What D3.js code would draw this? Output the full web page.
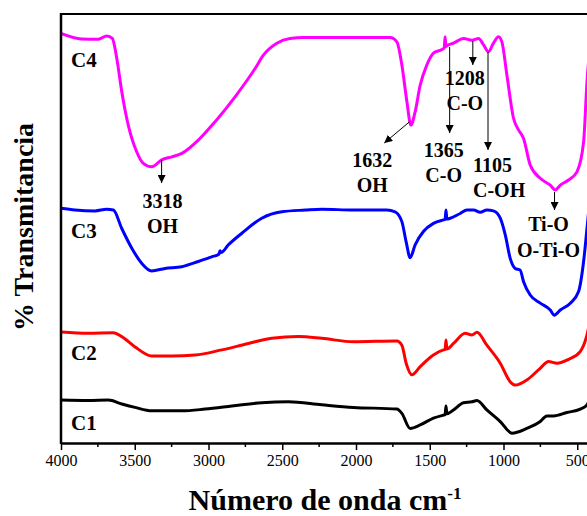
<!DOCTYPE html>
<html>
<head>
<meta charset="utf-8">
<script src="https://cdn.jsdelivr.net/npm/d3@7/dist/d3.min.js"></script>
<style>
  html, body { margin: 0; padding: 0; background: #fff; }
  svg { display: block; }
  text { font-family: "Liberation Serif", "Times New Roman", serif; }
</style>
</head>
<body>
<svg id="chart" width="587" height="516"></svg>
<script>
// FTIR spectra: wavenumber (cm-1) and transmittance (offset, arbitrary units)
const seriesNames = ["C1", "C2", "C3", "C4"];
const seriesColors = ["#000000", "#ff0000", "#0000ff", "#ff00ff"];

const wnC4 = [4000,3860,3747,3690,3652,3622,3588,3544,3487,3442,3385,3317,3249,3181,3069,2955,2820,2684,2628,2537,2447,2357,2153,1926,1768,1723,1689,1655,1628,1599,1565,1520,1475,1418,1402,1396,1390,1384,1339,1271,1214,1169,1135,1102,1068,1034,1011,977,932,898,864,819,751,683,649,615,559,502,457,434,400];
const tC4  = [95.5,94.2,94.1,94.9,94.3,89.7,81.9,74.1,67.9,65.2,64.4,66.0,66.7,67.5,70.6,74.9,80.7,87.3,90.4,93.2,94.3,94.5,94.5,94.5,94.5,93.5,88.1,79.6,74.1,77.2,83.4,88.1,90.9,91.7,92.1,94.7,92.4,92.6,93.2,94.3,93.9,94.3,92.8,91.2,93.2,94.7,93.5,85.8,75.7,73.0,71.0,64.8,61.7,60.1,59.0,60.1,61.3,63.2,70.2,84.2,97.0];

const wnC3 = [4000,3905,3769,3690,3645,3588,3520,3453,3385,3295,3181,3069,2978,2930,2922,2915,2865,2774,2639,2503,2345,2232,2017,1791,1735,1689,1660,1633,1599,1543,1475,1407,1396,1390,1384,1361,1294,1248,1203,1158,1113,1068,1022,988,955,921,887,864,819,751,683,656,615,547,491,457,434,400];
const tC3  = [54.7,54.3,54.1,54.5,54.3,50.0,45.4,41.9,40.1,40.7,41.1,42.3,43.4,44.0,44.8,44.4,46.2,48.9,52.4,53.9,54.3,54.5,54.3,54.3,53.9,51.6,46.9,43.2,46.2,49.3,51.2,52.0,52.1,54.3,52.2,52.4,53.5,54.3,54.3,53.8,54.3,54.1,52.4,48.5,43.1,40.7,40.3,37.6,34.5,32.6,31.0,29.8,31.0,32.6,35.3,42.3,50.0,62.0];

const wnC2 = [4000,3815,3645,3588,3498,3385,3249,3091,2910,2730,2571,2390,2232,2017,1723,1689,1660,1621,1565,1475,1407,1396,1390,1384,1339,1260,1214,1180,1113,1022,955,921,842,751,695,638,559,480,434,400];
const tC2  = [25.9,25.6,25.7,24.8,22.4,20.3,20.3,20.5,21.7,23.2,24.4,24.8,24.4,23.6,23.8,22.8,18.6,15.9,17.8,20.5,21.7,21.8,24.0,21.9,23.2,25.6,25.2,25.8,22.8,18.6,14.3,13.5,14.7,17.4,19.0,18.6,19.5,21.3,25.2,31.0];

const wnC1 = [4000,3815,3679,3588,3498,3385,3181,3023,2842,2639,2458,2232,2017,1723,1689,1633,1565,1475,1407,1396,1390,1384,1339,1271,1214,1180,1113,1022,943,842,751,706,661,570,480,434,400];
const tC1  = [10.0,9.9,10.0,9.1,8.3,7.5,7.5,7.9,8.6,9.4,9.6,8.9,8.3,7.9,6.9,3.4,4.2,5.8,6.5,6.6,8.6,6.8,7.7,9.4,9.6,9.9,7.7,5.0,2.3,3.4,5.0,6.3,6.3,7.1,7.9,8.9,11.2];

const seriesWn = [wnC1, wnC2, wnC3, wnC4];
const seriesT  = [tC1, tC2, tC3, tC4];

// band assignments
const bandWn    = [3318, 1632, 1365, 1208, 1105, 654];
const bandLabel = [["3318", "OH"], ["1632", "OH"], ["1365", "C-O"], ["1208", "C-O"], ["1105", "C-OH"], ["Ti-O", "O-Ti-O"]];

const xTicks = [4000, 3500, 3000, 2500, 2000, 1500, 1000, 500];
const xMinorTicks = [3750, 3250, 2750, 2250, 1750, 1250, 750];

const xTitle = "Número de onda cm";
const xTitleSup = "-1";
const yTitle = "% Transmitancia";

// ---- layout ----
const svg = d3.select("#chart");
const plot = { left: 61, right: 592, top: 14, bottom: 443 };

const x = d3.scaleLinear().domain([4000, 400]).range([plot.left, plot.right]);
const y = d3.scaleLinear().domain([0, 100]).range([plot.bottom, plot.top]);

svg.append("defs").append("marker")
  .attr("id", "head")
  .attr("viewBox", "0 0 10 10")
  .attr("refX", 10).attr("refY", 5)
  .attr("markerWidth", 8).attr("markerHeight", 8)
  .attr("markerUnits", "userSpaceOnUse")
  .attr("orient", "auto")
  .append("path").attr("d", "M0,0 L10,5 L0,10 Z").attr("fill", "#000");

svg.append("clipPath").attr("id", "plotclip")
  .append("rect").attr("x", plot.left).attr("y", 0)
  .attr("width", plot.right - plot.left).attr("height", plot.bottom);

// spectra
const line = d3.line()
  .x(d => x(d[0]))
  .y(d => y(d[1]))
  .curve(d3.curveMonotoneX);

const g = svg.append("g").attr("clip-path", "url(#plotclip)");
seriesNames.forEach((name, i) => {
  const pts = seriesWn[i].map((w, k) => [w, seriesT[i][k]]);
  g.append("path")
    .datum(pts)
    .attr("d", line)
    .attr("fill", "none")
    .attr("stroke", seriesColors[i])
    .attr("stroke-width", 3)
    .attr("stroke-linejoin", "round")
    .attr("stroke-linecap", "round");
});

// frame: top edge and left edge
svg.append("line")
  .attr("x1", plot.left).attr("x2", 587)
  .attr("y1", plot.top).attr("y2", plot.top)
  .attr("stroke", "#000").attr("stroke-width", 2);
svg.append("line")
  .attr("x1", plot.left).attr("x2", plot.left)
  .attr("y1", plot.top - 1).attr("y2", plot.bottom + 1)
  .attr("stroke", "#000").attr("stroke-width", 2.5);

// bottom axis
const xAxis = d3.axisBottom(x)
  .tickValues(xTicks)
  .tickFormat(d3.format("d"))
  .tickSizeInner(7).tickSizeOuter(0).tickPadding(5);
const axG = svg.append("g")
  .attr("transform", `translate(0,${plot.bottom})`)
  .call(xAxis);
axG.select(".domain").attr("stroke-width", 2.5);
axG.selectAll(".tick line").attr("stroke-width", 1.5);
axG.selectAll(".tick text")
  .attr("font-size", 16)
  .attr("fill", "#000");

axG.selectAll(".minor")
  .data(xMinorTicks).enter()
  .append("line")
  .attr("x1", d => x(d)).attr("x2", d => x(d))
  .attr("y1", 0).attr("y2", 4)
  .attr("stroke", "#000").attr("stroke-width", 1.5);

// series labels
const labelY = [430, 360, 238, 67];
seriesNames.forEach((name, i) => {
  svg.append("text")
    .attr("x", 71).attr("y", labelY[i])
    .attr("font-size", 21).attr("font-weight", "bold")
    .text(name);
});

// band annotations: arrow tail/head (px) and label placement
const annLayout = [
  { y0: 160, y1: 183, dxTail: 0,  dxHead: 0,   lx: 1,   anchor: "middle", ly: [208, 233] },
  { y0: 122, y1: 143, dxTail: -1, dxHead: -26, lx: -38, anchor: "middle", ly: [167, 192] },
  { y0: 47,  y1: 133, dxTail: 0,  dxHead: 0,   lx: -6,  anchor: "middle", ly: [157, 182] },
  { y0: 41,  y1: 65,  dxTail: 0,  dxHead: 0,   lx: -8,  anchor: "middle", ly: [85, 110] },
  { y0: 52,  y1: 150, dxTail: 0,  dxHead: 0,   lx: -15, anchor: "start",  ly: [172, 197] },
  { y0: 192, y1: 210, dxTail: 0,  dxHead: 0,   lx: -6,  anchor: "middle", ly: [231, 257] }
];

bandWn.forEach((w, i) => {
  const L = annLayout[i];
  const xx = x(w);
  svg.append("line")
    .attr("x1", xx + L.dxTail).attr("y1", L.y0)
    .attr("x2", xx + L.dxHead).attr("y2", L.y1)
    .attr("stroke", "#000").attr("stroke-width", 1)
    .attr("marker-end", "url(#head)");
  bandLabel[i].forEach((t, k) => {
    svg.append("text")
      .attr("x", xx + L.lx).attr("y", L.ly[k])
      .attr("text-anchor", L.anchor)
      .attr("font-size", 20).attr("font-weight", "bold")
      .text(t);
  });
});

// axis titles
const xt = svg.append("text")
  .attr("x", 325).attr("y", 510)
  .attr("text-anchor", "middle")
  .attr("font-size", 30).attr("font-weight", "bold")
  .text(xTitle);
xt.append("tspan")
  .attr("dy", -11).attr("font-size", 17)
  .text(xTitleSup);

svg.append("text")
  .attr("transform", "translate(33,227) rotate(-90)")
  .attr("text-anchor", "middle")
  .attr("font-size", 28).attr("font-weight", "bold")
  .text(yTitle);
</script>
</body>
</html>
